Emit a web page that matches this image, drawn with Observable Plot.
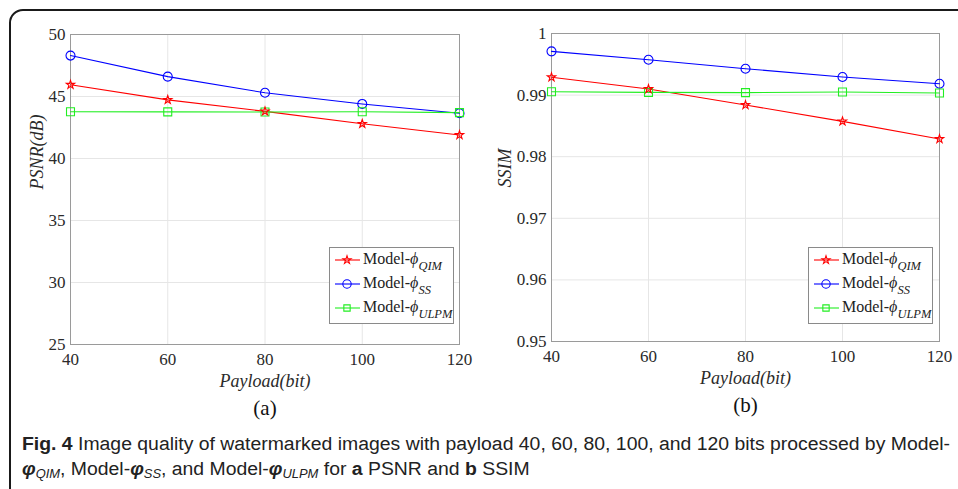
<!DOCTYPE html>
<html><head><meta charset="utf-8">
<script src="https://cdn.jsdelivr.net/npm/d3@7"></script>
<script src="https://cdn.jsdelivr.net/npm/@observablehq/plot@0.6"></script>
<style>
html,body{margin:0;padding:0;background:#fff;width:958px;height:489px;overflow:hidden;position:relative;}
#frame{position:absolute;left:9px;top:9px;width:990px;height:520px;border:2px solid #1a1a1a;border-radius:14px;box-sizing:border-box;}
.panel{position:absolute;top:0;}
.legend{position:absolute;border:1px solid #8a8a8a;background:#fff;font-family:"Liberation Serif",serif;font-size:16px;color:#222;box-sizing:border-box;}
.legend .row{position:absolute;left:0;height:24px;width:100%;}
.legend svg{position:absolute;left:0;top:0;}
.legend .lbl{position:absolute;left:33px;top:2px;white-space:nowrap;line-height:18px;}
.legend .sub{position:relative;top:6px;font-size:12.5px;font-style:italic;}
.caption{position:absolute;left:22px;top:432px;font-family:"Liberation Sans Narrow","Liberation Sans",sans-serif;font-size:18px;color:#222;line-height:25px;white-space:nowrap;transform-origin:0 0;}
.caption sub{font-size:12px;font-style:italic;vertical-align:-3px;}
</style>
</head><body>
<div id="frame"></div>
<div id="left" class="panel" style="left:0px"></div>
<div id="right" class="panel" style="left:480px"></div>
<div id="legL" class="legend" style="left:329px;top:247px;width:125px;height:77px"></div>
<div id="legR" class="legend" style="left:808px;top:247px;width:125px;height:77px"></div>
<div class="caption" id="cap"><span id="cap1"><b>Fig. 4</b> Image quality of watermarked images with payload 40, 60, 80, 100, and 120 bits processed by Model-</span><br><span><b><i>φ</i></b><sub>QIM</sub>, Model-<b><i>φ</i></b><sub>SS</sub>, and Model-<b><i>φ</i></b><sub>ULPM</sub> for <b>a</b> PSNR and <b>b</b> SSIM</span></div>
<script>
const payload = [40, 60, 80, 100, 120];
const seriesKeys = ["QIM", "SS", "ULPM"];
const seriesColors = ["#ff0000", "#0000ff", "#22ee22"];
const seriesSymbols = ["star", "circle", "square"];
const psnrQIM = [45.95, 44.73, 43.8, 42.8, 41.9];
const psnrSS = [48.3, 46.6, 45.3, 44.4, 43.65];
const psnrULPM = [43.77, 43.76, 43.75, 43.77, 43.7];
const ssimQIM = [0.9929, 0.9910, 0.9884, 0.98574, 0.98288];
const ssimSS = [0.9971, 0.99574, 0.99428, 0.99293, 0.99185];
const ssimULPM = [0.99055, 0.99044, 0.9904, 0.9905, 0.99034];
const psnrTicks = [25, 30, 35, 40, 45, 50];
const ssimTicks = [0.95, 0.96, 0.97, 0.98, 0.99, 1];
const xLabel = "Payload(bit)";
const yLabels = ["PSNR(dB)", "SSIM"];
const panelTags = ["(a)", "(b)"];

function panel(o) {
  const rows = [];
  seriesKeys.forEach((s, i) => payload.forEach((p, j) => rows.push({series: s, x: p, y: o.values[i][j]})));
  const isStar = d => d.series === seriesKeys[0];
  return Plot.plot({
    width: o.width, height: 420,
    marginLeft: o.ml, marginRight: o.mr, marginTop: o.mt, marginBottom: 420 - o.fb,
    style: {fontFamily: "'Liberation Serif', serif", fontSize: "17px", color: "#2a2a2a", background: "transparent", overflow: "visible"},
    x: {domain: [40, 120]},
    y: {domain: o.domain},
    color: {domain: seriesKeys, range: seriesColors},
    symbol: {domain: seriesKeys, range: seriesSymbols},
    marks: [
      Plot.gridX(payload, {stroke: "#e6e6e6", strokeOpacity: 1}),
      Plot.gridY(o.ticks, {stroke: "#e6e6e6", strokeOpacity: 1}),
      Plot.frame({stroke: "#9a9a9a"}),
      Plot.axisX(payload, {tickSize: 0, tickPadding: 8, label: null, fontSize: 17}),
      Plot.axisY(o.ticks, {tickSize: 0, tickPadding: 5, label: null, fontSize: 17, tickFormat: o.fmt}),
      Plot.line(rows, {x: "x", y: "y", z: "series", stroke: "series", strokeWidth: 1.1}),
      Plot.dot(rows.filter(d => !isStar(d)), {x: "x", y: "y", stroke: "series", symbol: "series", fill: "none", r: 4.5, strokeWidth: 1.1}),
      Plot.dot(rows.filter(isStar), {x: "x", y: "y", stroke: "series", symbol: "series", fill: "none", r: 2.6, strokeWidth: 1.1}),
      Plot.text([xLabel], {text: d => d, frameAnchor: "bottom", lineAnchor: "middle", dy: 37, fontStyle: "italic", fontSize: 18, fill: "#2a2a2a"}),
      Plot.text([o.tag], {text: d => d, frameAnchor: "bottom", lineAnchor: "middle", dy: 64, fontSize: 21, fill: "#111"}),
      Plot.text([o.ylabel], {text: d => d, frameAnchor: "left", lineAnchor: "middle", dx: o.ydx, rotate: -90, fontStyle: "italic", fontSize: 18, fill: "#2a2a2a"})
    ]
  });
}

document.getElementById("left").append(panel({
  width: 480, ml: 70, mr: 21, mt: 34, fb: 344, domain: [25, 50], ticks: psnrTicks,
  values: [psnrQIM, psnrSS, psnrULPM], fmt: d => String(d),
  tag: panelTags[0], ylabel: yLabels[0], ydx: -33
}));
document.getElementById("right").append(panel({
  width: 478, ml: 71, mr: 19, mt: 33, fb: 341, domain: [0.95, 1], ticks: ssimTicks,
  values: [ssimQIM, ssimSS, ssimULPM], fmt: d => d === 1 ? "1" : d.toFixed(2),
  tag: panelTags[1], ylabel: yLabels[1], ydx: -46
}));

function legend(id) {
  const el = d3.select("#" + id);
  seriesKeys.forEach((s, i) => {
    const row = el.append("div").attr("class", "row").style("top", (i * 24) + "px");
    const svg = row.append("svg").attr("width", 32).attr("height", 24);
    svg.append("line").attr("x1", 5).attr("x2", 30).attr("y1", 12).attr("y2", 12).attr("stroke", seriesColors[i]).attr("stroke-width", 1.1);
    const sym = {star: d3.symbolStar, circle: d3.symbolCircle, square: d3.symbolSquare}[seriesSymbols[i]];
    svg.append("path").attr("transform", "translate(17,12)").attr("d", d3.symbol(sym, i === 0 ? 20 : i === 1 ? 55 : 40)())
      .attr("fill", "none").attr("stroke", seriesColors[i]).attr("stroke-width", 1.1);
    const lbl = row.append("div").attr("class", "lbl");
    lbl.html(`Model-<i>ϕ</i><span class="sub">${s}</span>`);
  });
}
legend("legL");
legend("legR");

const cap = document.getElementById("cap");
const w = document.getElementById("cap1").getBoundingClientRect().width;
cap.style.transform = `scaleX(${928 / w})`;
</script>
</body></html>
